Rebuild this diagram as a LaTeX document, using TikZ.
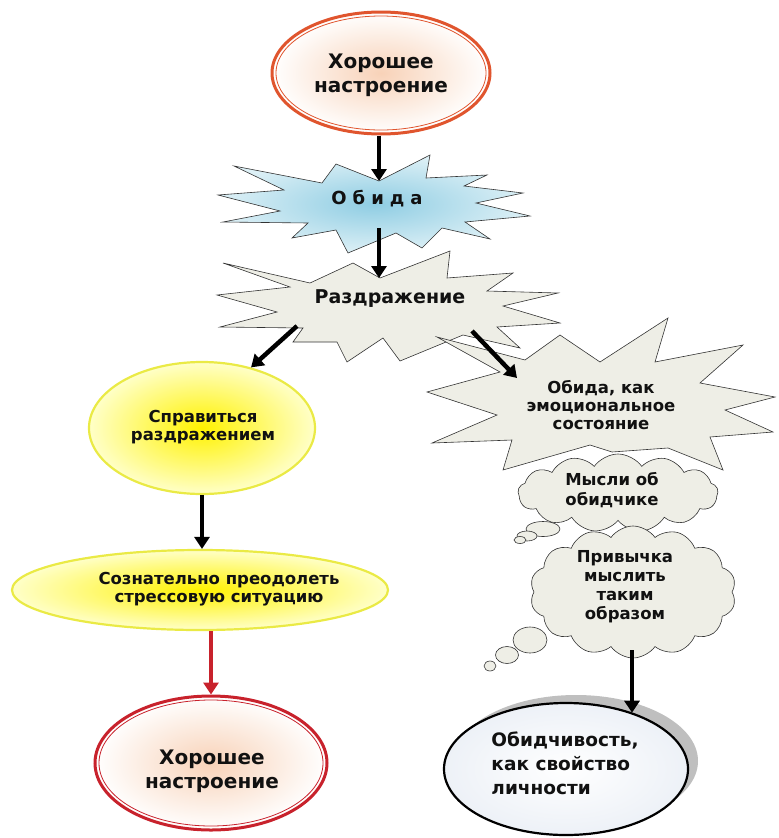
\documentclass[tikz,border=0pt]{standalone}
\usepackage{fontspec}
\setmainfont{DejaVu Sans}
\usetikzlibrary{shapes.geometric,shapes.symbols,arrows.meta,shadows}
\definecolor{orbord}{HTML}{E0552E}
\definecolor{redbord}{HTML}{C8222C}
\definecolor{peach}{HTML}{F8D2B8}
\definecolor{ylbord}{HTML}{EAEA45}
\definecolor{ylfill}{HTML}{FFFFC8}
\definecolor{ylcore}{HTML}{FFF200}
\definecolor{bluefill}{HTML}{DDF0F6}
\definecolor{bluecore}{HTML}{8FCDE3}
\definecolor{grayfill}{HTML}{EEEEE6}
\definecolor{persfill}{HTML}{EDF1F7}
\definecolor{txt}{HTML}{111111}
\tikzset{
  arr/.style={line width=4.5pt, -{Triangle[length=12pt,width=15pt]}},
  redarr/.style={arr, draw=redbord, color=redbord},
  goodell/.style={ellipse, draw=#1, line width=3pt,
     shading=radial, inner color=peach, outer color=white},
  goodin/.style={ellipse, draw=#1, line width=0.8pt},
  yellell/.style={ellipse, draw=ylbord, line width=2.2pt, shading=radial,
     inner color=ylcore, outer color=ylfill},
  burst/.style={draw=black!80, line width=0.6pt, fill=grayfill, line join=miter},
  cloudbox/.style={cloud, draw=black!80, line width=0.6pt, fill=grayfill, cloud puffs=#1,
     cloud puff arc=110, inner sep=0pt},
  bub/.style={ellipse, draw=black!80, line width=0.6pt, fill=grayfill, inner sep=0pt},
  lbl/.style={align=center, text=txt, font=\bfseries\fontsize{16.5}{18}\selectfont}
}
\begin{document}
\begin{tikzpicture}[x=1pt,y=-1pt]
\useasboundingbox (0,0) rectangle (779,838);

% top good mood
\node[goodell=orbord, minimum width=218pt, minimum height=122pt] (good1) at (381,73) {};
\node[goodin=orbord, minimum width=210pt, minimum height=114pt] (good1in) at (381,73) {};
\node[lbl, font=\bfseries\fontsize{20}{24}\selectfont] (good1t) at (381,75) {Хорошее\\настроение};

% Obida starburst
\path[draw=black!80, line width=0.6pt, shading=radial, inner color=bluecore, outer color=bluefill]
  (379,181) -- (430,155) -- (426,178) -- (487,175) -- (464,186) -- (523,193) -- (476,203)
  -- (530,216) -- (465,222) -- (490,239) -- (442,228) -- (422,248) -- (396,233) -- (348,253)
  -- (336,230) -- (292,238) -- (308,223) -- (223,222) -- (280,211) -- (218,195) -- (284,190)
  -- (234,166) -- (322,183) -- (336,164) -- cycle;
\node[lbl, font=\bfseries\fontsize{18}{20}\selectfont] (obida) at (377,199) {О\,\,б\,\,и\,\,д\,\,а};
\coordinate (obidaTop) at (379,181);
\coordinate (obidaBot) at (379,228);

% Razdrazhenie starburst
\path[burst]
  (380,278) -- (450,251) -- (447,278) -- (513,273) -- (487,291) -- (558,293) -- (503,306)
  -- (560,323) -- (497,327) -- (520,348) -- (463,335) -- (400,361) -- (383,338) -- (347,362)
  -- (337,342) -- (293,342) -- (303,328) -- (220,327) -- (277,312) -- (217,295) -- (290,287)
  -- (223,263) -- (310,283) -- (353,263) -- cycle;
\node[lbl, font=\bfseries\fontsize{19}{21}\selectfont] (razd) at (390,299) {Раздражение};
\coordinate (razdTop) at (379,278);
\coordinate (razdL) at (297,326);
\coordinate (razdR) at (472,331);

% right starburst
\path[burst]
  (668,318) -- (655,362) -- (743,345) -- (700,383) -- (775,397) -- (725,410) -- (773,432)
  -- (710,437) -- (723,470) -- (668,448) -- (612,452) -- (590,445) -- (503,470) -- (512,440)
  -- (432,443) -- (497,415) -- (427,392) -- (500,372) -- (437,337) -- (525,360) -- (560,335)
  -- (600,362) -- cycle;
\node[lbl] (emo) at (601,405) {Обида, как\\эмоциональное\\состояние};
\coordinate (emoIn) at (517,378);

% thought clouds
\node[cloudbox=13, aspect=2.6, minimum width=200pt, minimum height=78pt] (th1) at (618,493) {};
\node[bub, minimum width=34pt, minimum height=15pt] (b11) at (543,529) {};
\node[bub, minimum width=20pt, minimum height=10pt] (b12) at (527,536) {};
\node[bub, minimum width=12pt, minimum height=7pt] (b13) at (520,540) {};
\node[lbl, font=\bfseries\fontsize{16.5}{20}\selectfont] (th1t) at (612,490) {Мысли об\\обидчике};

\node[cloudbox=14, aspect=1.55, minimum width=206pt, minimum height=132pt] (th2) at (633,592) {};
\node[bub, minimum width=34pt, minimum height=26pt] (b21) at (530,640) {};
\node[bub, minimum width=23pt, minimum height=17pt] (b22) at (507,655) {};
\node[bub, minimum width=12pt, minimum height=10pt] (b23) at (490,666) {};
\node[lbl, font=\bfseries\fontsize{16.5}{19}\selectfont] (th2t) at (625,587) {Привычка\\мыслить\\таким\\образом};
\coordinate (th2out) at (632,650);

% left yellow ellipses
\node[yellell, minimum width=226pt, minimum height=132pt] (cope) at (202,428) {};
\node[lbl] (copet) at (203,427) {Справиться\\раздражением};
\node[yellell, minimum width=376pt, minimum height=80pt] (overc) at (200,590) {};
\node[lbl] (overct) at (219,589) {Сознательно преодолеть\\стрессовую ситуацию};

% bottom good mood
\node[goodell=redbord, minimum width=232pt, minimum height=134pt] (good2) at (211,763) {};
\node[goodin=redbord, minimum width=224pt, minimum height=126pt] (good2in) at (211,763) {};
\node[lbl, font=\bfseries\fontsize{20}{24}\selectfont] (good2t) at (212,771) {Хорошее\\настроение};

% personality trait
\node[ellipse, draw=black, line width=2.2pt, minimum width=244pt, minimum height=132pt,
      shading=radial, inner color=white, outer color=persfill,
      drop shadow={shadow xshift=10pt, shadow yshift=8pt, fill=black!25, opacity=1}] (pers) at (566,769) {};
\node[align=left, text=txt, font=\bfseries\fontsize{18.5}{24}\selectfont] (perst) at (565,763) {Обидчивость,\\как свойство\\личности};

% arrows
\draw[arr] (good1.south -| obidaTop) -- (obidaTop);
\draw[arr] (obidaBot) -- (razdTop);
\draw[arr] (razdL) -- (cope.51);
\draw[arr] (razdR) -- (emoIn);
\draw[arr] (cope.south) -- (overc.north -| cope.south);
\draw[redarr] (overc.south -| good2.north) -- (good2.north);
\draw[arr] (th2out) -- (th2out |- pers.40);
\end{tikzpicture}
\end{document}
